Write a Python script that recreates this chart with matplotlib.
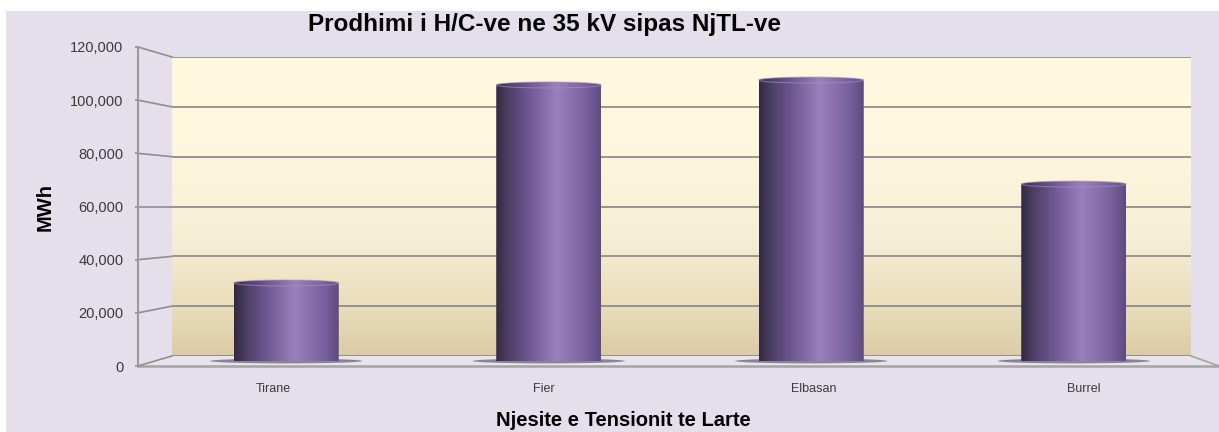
import numpy as np
import matplotlib.pyplot as plt
from matplotlib.patches import Rectangle, Polygon, Ellipse, PathPatch
from matplotlib.path import Path
from matplotlib.colors import LinearSegmentedColormap
from matplotlib.ticker import FuncFormatter

# data
categories = ['Tirane', 'Fier', 'Elbasan', 'Burrel']
production = [30300, 107200, 109100, 68700]
yticks = [0, 20000, 40000, 60000, 80000, 100000, 120000]

title = 'Prodhimi i H/C-ve ne 35 kV sipas NjTL-ve'
xlabel = 'Njesite e Tensionit te Larte'
ylabel = 'MWh'

W, H = 1219, 432
plt.rcParams['font.family'] = ['Liberation Sans', 'DejaVu Sans']

fig = plt.figure(figsize=(W / 100, H / 100), dpi=100, facecolor='white')


def box(x0, y0, x1, y1):
    # pixel box (top-left origin) -> figure fraction rect
    return [x0 / W, 1 - y1 / H, (x1 - x0) / W, (y1 - y0) / H]


# lavender chart area
fig.patches.append(Rectangle((6 / W, 0), 1, 1 - 11 / H, transform=fig.transFigure,
                             facecolor='#e5dfec', edgecolor='none', zorder=-5))

# back wall
ax_back = fig.add_axes(box(172, 57, 1191, 356), zorder=0)
ax_back.set_xlim(0, 1)
ax_back.set_ylim(0, 120000)
wall = LinearSegmentedColormap.from_list('wall', [(0, '#dbcca5'), (0.18, '#eadebd'),
                                                  (0.4, '#f7efd5'), (0.7, '#fdf7dd'),
                                                  (1, '#fffadf')])
ax_back.imshow(np.linspace(0, 1, 256).reshape(-1, 1), cmap=wall, aspect='auto',
               extent=(0, 1, 0, 120000), origin='lower', zorder=0)
for v in yticks:
    ax_back.axhline(v, color='#85858a', lw=1.2, zorder=1)
ax_back.set_axis_off()

# front axis (labels and scale)
ax = fig.add_axes(box(138, 47, 1219, 366), zorder=2)
ax.patch.set_visible(False)
ax.set_xlim(-0.5, 3.5)
ax.set_ylim(0, 120000)
ax.set_yticks(yticks)
ax.yaxis.set_major_formatter(FuncFormatter(lambda v, p: f'{int(v):,}'))
ax.set_xticks(range(len(categories)))
ax.set_xticklabels(categories)
ax.tick_params(axis='y', length=2, width=1.2, color='#8e8e8e', pad=8.5,
               labelsize=10.5, labelcolor='#3a3a3a')
ax.tick_params(axis='x', length=0, pad=12, labelsize=9, labelcolor='#3a3a3a')
for s in ['top', 'right', 'bottom']:
    ax.spines[s].set_visible(False)
ax.spines['left'].set_color('#9a9a9a')
ax.spines['left'].set_linewidth(1.5)

# floor between back wall and front edge
to_fig = fig.transFigure.inverted()
fl = [ax_back.transAxes.transform((0, 0)), ax_back.transAxes.transform((1, 0)),
      ax.transAxes.transform((1, 0)), ax.transAxes.transform((0, 0))]
fig.patches.append(Polygon(to_fig.transform(fl), closed=True, transform=fig.transFigure,
                           facecolor='#e8e4ee', edgecolor='none', zorder=0.5))
fig.lines.append(plt.Line2D(*to_fig.transform(fl[2:]).T, transform=fig.transFigure,
                            color='#a4a4a4', lw=1.8, zorder=1))

# slanted links from front ticks to back gridlines
for v in yticks:
    p0 = ax.transData.transform((-0.5, v))
    p1 = ax_back.transData.transform((0, v))
    pts = to_fig.transform([p0, p1])
    fig.lines.append(plt.Line2D(pts[:, 0], pts[:, 1], transform=fig.transFigure,
                                color='#8e8e8e', lw=1.2, zorder=1))
p0 = ax_back.transAxes.transform((1, 0))
p1 = ax.transAxes.transform((1, 0))
pts = to_fig.transform([p0, p1])
fig.lines.append(plt.Line2D(pts[:, 0], pts[:, 1], transform=fig.transFigure,
                            color='#a4a4a4', lw=1.2, zorder=1))

# cylinders at mid depth
ax_bar = fig.add_axes(box(155, 52, 1205, 361), zorder=3)
ax_bar.patch.set_visible(False)
ax_bar.set_xlim(-0.5, 3.5)
ax_bar.set_ylim(0, 120000)
ax_bar.set_axis_off()

cyl = LinearSegmentedColormap.from_list('cyl', [(0, '#33293f'), (0.12, '#4e3f66'),
                                                (0.3, '#6c5690'), (0.58, '#9a80bc'),
                                                (0.85, '#7a62a0'), (1, '#5f4b80')])
bw = 0.4
eh = 6 / 309 * 120000  # ellipse height in data units
t = np.linspace(0, np.pi, 40)
for i, v in enumerate(production):
    # shadow on the floor
    ax_bar.add_patch(Ellipse((i, 0), bw * 1.45, eh * 0.8, facecolor='#4a4552',
                             alpha=0.6, edgecolor='none', zorder=2, clip_on=False))
    xs = np.concatenate([i - bw / 2 * np.cos(t), i + bw / 2 * np.cos(t)])
    ys = np.concatenate([-eh / 2 * np.sin(t), v + eh / 2 * np.sin(t)])
    shape = PathPatch(Path(np.column_stack([xs, ys])), facecolor='none',
                      edgecolor='none', transform=ax_bar.transData)
    ax_bar.add_patch(shape)
    im = ax_bar.imshow(np.linspace(0, 1, 256).reshape(1, -1), cmap=cyl, aspect='auto',
                       extent=(i - bw / 2, i + bw / 2, -eh, v + eh), zorder=3)
    im.set_clip_path(shape)
    ax_bar.add_patch(Ellipse((i, v), bw, eh, facecolor='none', edgecolor='#a892c8',
                             lw=0.8, alpha=0.6, zorder=4))
ax_bar.set_xlim(-0.5, 3.5)
ax_bar.set_ylim(0, 120000)

fig.text(544 / W, 1 - 24 / H, title, ha='center', va='center',
         fontsize=17.5, fontweight='bold', color='black')
fig.text(623 / W, 1 - 421 / H, xlabel, ha='center', va='center',
         fontsize=14.5, fontweight='bold', color='black')
fig.text(45 / W, 1 - 207 / H, ylabel, ha='center', va='center', rotation=90,
         fontsize=14.5, fontweight='bold', color='black')

fig.savefig('out.png', dpi=100, facecolor='white')
